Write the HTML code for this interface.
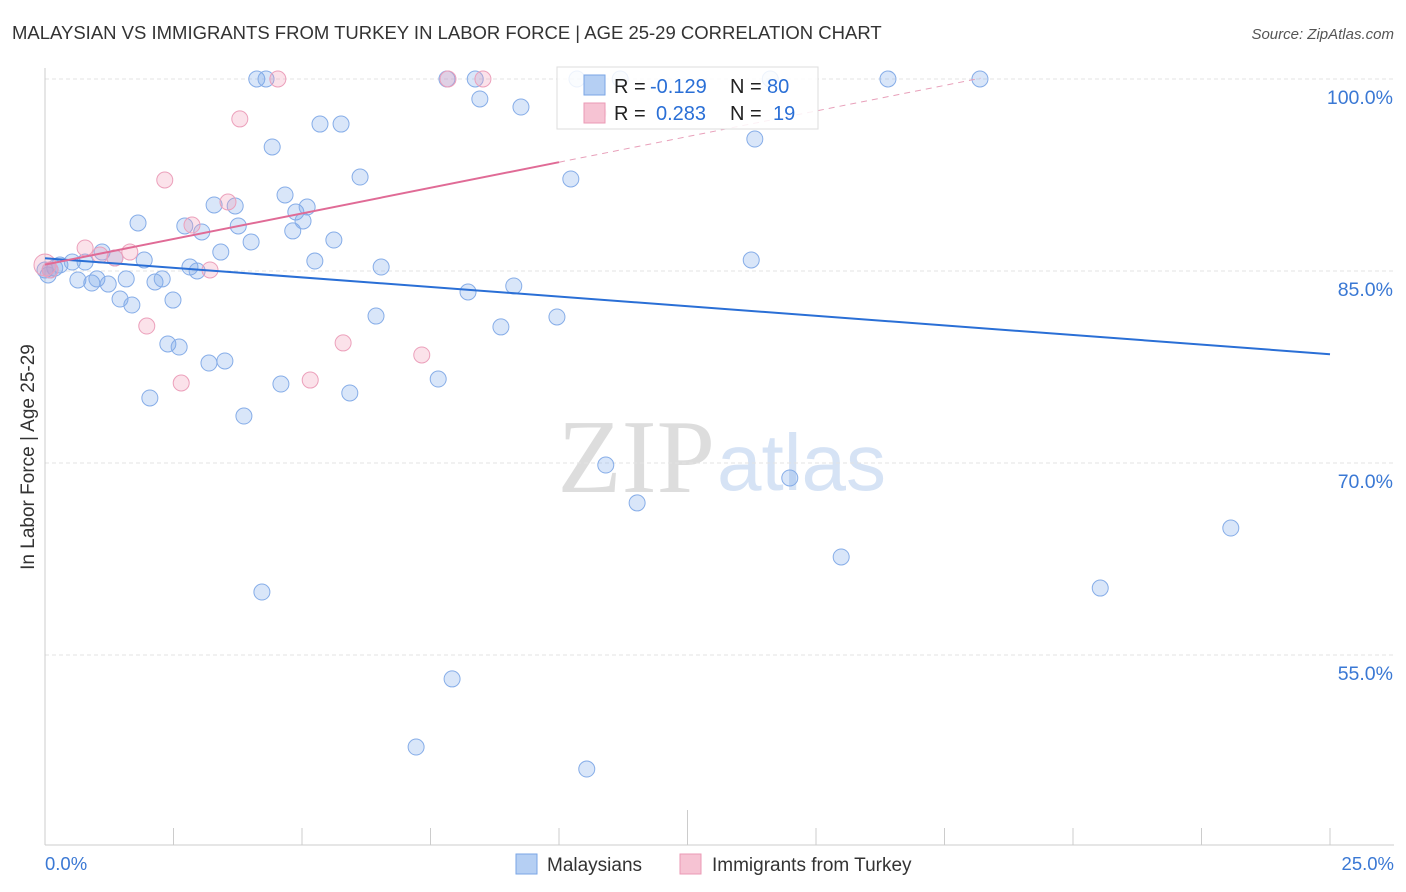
<!DOCTYPE html>
<html><head><meta charset="utf-8"><style>
body{margin:0;background:#fff;font-family:"Liberation Sans",sans-serif;}
svg{display:block}
</style></head><body>
<svg id="c" width="1406" height="892">
<text x="12" y="39" font-size="18.5" fill="#333">MALAYSIAN VS IMMIGRANTS FROM TURKEY IN LABOR FORCE | AGE 25-29 CORRELATION CHART</text>
<text x="1394" y="39" font-size="15" fill="#555" font-style="italic" text-anchor="end">Source: ZipAtlas.com</text>
<text x="715" y="492" font-size="105" fill="#ddd" font-family="Liberation Serif,serif" text-anchor="end">ZIP</text>
<text x="717" y="490" font-size="80" fill="#d6e3f5">atlas</text>
<text transform="translate(34,457) rotate(-90)" font-size="19" fill="#333" text-anchor="middle">In Labor Force | Age 25-29</text>
<g id="grid"></g><g id="pts"></g><g id="lines"></g>
<g>
<rect x="557" y="67" width="261" height="62" fill="#fff" fill-opacity="0.85" stroke="#ddd"/>
<rect x="584" y="75" width="21" height="20" fill="#b5cff3" stroke="#7aa6e6"/>
<rect x="584" y="103" width="21" height="20" fill="#f6c3d3" stroke="#eb9ab5"/>
<text x="614" y="93" font-size="20" fill="#222">R =</text><text x="650" y="93" font-size="20" fill="#2a6fd6">-0.129</text>
<text x="730" y="93" font-size="20" fill="#222">N =</text><text x="767" y="93" font-size="20" fill="#2a6fd6">80</text>
<text x="614" y="120" font-size="20" fill="#222">R =</text><text x="656" y="120" font-size="20" fill="#2a6fd6">0.283</text>
<text x="730" y="120" font-size="20" fill="#222">N =</text><text x="773" y="120" font-size="20" fill="#2a6fd6">19</text>
</g>
<g>
<rect x="516" y="854" width="21" height="20" fill="#b5cff3" stroke="#7aa6e6"/>
<text x="547" y="871" font-size="19" fill="#333">Malaysians</text>
<rect x="680" y="854" width="21" height="20" fill="#f6c3d3" stroke="#eb9ab5"/>
<text x="712" y="871" font-size="19" fill="#333">Immigrants from Turkey</text>
</g>
</svg>
<script>
const yTicks=[100,85,70,55];
const xTickLabels=["0.0%","25.0%"];
const blueX=[0.10,0.19,0.29,0.53,0.64,0.78,0.91,1.01,1.11,1.23,1.36,1.46,1.58,1.69,1.81,1.93,2.04,2.14,2.28,2.39,2.49,2.61,2.72,2.82,2.96,3.05,3.19,3.29,3.42,3.50,3.70,3.76,3.87,4.01,4.12,4.22,4.30,4.42,4.59,4.67,4.82,4.88,5.02,5.10,5.25,5.35,5.62,5.76,5.93,6.13,6.44,6.54,7.22,7.65,7.82,7.92,8.23,8.37,8.46,8.87,9.12,9.26,9.96,10.23,10.35,10.54,10.91,11.19,11.52,13.74,13.81,14.11,14.49,15.49,16.40,18.19,20.53,23.07,0.0,0.06];
const blueY=[85.08,85.23,85.47,85.70,84.30,85.70,84.06,84.38,86.48,83.98,86.02,82.81,84.38,82.34,88.75,85.86,75.08,84.14,84.38,79.30,82.73,79.06,88.52,85.31,85.00,88.05,77.81,90.16,86.48,77.97,90.08,88.52,73.67,87.27,100,59.92,100,94.69,76.17,90.94,88.13,89.61,88.91,90.00,85.78,96.48,87.42,96.48,75.47,92.34,81.48,85.31,47.81,76.56,100,53.13,83.36,100,98.44,80.63,83.83,97.81,81.41,92.19,100,46.09,69.84,100,66.88,85.86,95.31,100,68.83,62.66,100,100,60.23,64.92,85.08,84.69];
const pinkX=[0,0.10,0.78,1.07,1.36,1.65,1.98,2.33,2.65,2.86,3.21,3.56,3.79,4.53,5.16,5.80,7.33,7.84,8.52,10.76];
const pinkY=[85.47,85.08,86.80,86.25,86.02,86.48,80.70,92.11,76.25,88.59,85.08,90.39,96.88,100,76.48,79.38,78.44,100,100,97.34];
const blueTrend=[86.0,78.5];
const pinkTrend=[85.5,0.80];
const X=v=>45+v/25*1285, Y=v=>79+(100-v)*12.8;
const NS="http://www.w3.org/2000/svg";
function mk(t,a,p){const e=document.createElementNS(NS,t);for(const k in a)e.setAttribute(k,a[k]);p.appendChild(e);return e;}
const g=document.getElementById('grid');
yTicks.forEach((v,i)=>{
 const l=mk('line',{x1:45,x2:1394,y1:Y(v),y2:Y(v),stroke:'#e3e3e3','stroke-dasharray':'4,3'},g);
 
 
 const t=mk('text',{x:1393,y:Y(v)+25,'font-size':19.5,fill:'#3a78d4','text-anchor':'end'},g);
 t.textContent=v.toFixed(1)+'%';
 
 
});
mk('line',{x1:45,x2:45,y1:68,y2:845,stroke:'#ccc'},g);
mk('line',{x1:45,x2:1394,y1:845,y2:845,stroke:'#ccc'},g);
for(let i=0;i<=10;i++){const tk=mk('line',{x1:X(i*2.5),x2:X(i*2.5),y1:i==5?810:828,y2:845,stroke:'#ccc'},g);
 
 }
const t0=mk('text',{x:45,y:870,'font-size':18.5,fill:'#3a78d4'},g);t0.textContent=xTickLabels[0];


const t1=mk('text',{x:1394,y:870,'font-size':18.5,fill:'#3a78d4','text-anchor':'end'},g);t1.textContent=xTickLabels[1];


const p=document.getElementById('pts');
blueX.forEach((x,i)=>{const c=mk('circle',{cx:X(x),cy:Y(blueY[i]),r:8,fill:'rgba(120,165,235,0.28)',stroke:'#86ade8','stroke-width':1},p);
 
 });
pinkX.forEach((x,i)=>{const c=mk('circle',{cx:X(x),cy:Y(pinkY[i]),r:i==0?11:8,fill:'rgba(240,150,180,0.28)',stroke:'#eca0bb','stroke-width':1},p);
 
 });
const L=document.getElementById('lines');
const bl=mk('line',{x1:X(0),y1:Y(blueTrend[0]),x2:X(25),y2:Y(blueTrend[1]),stroke:'#2a6fd6','stroke-width':2},L);


const pl=mk('line',{x1:X(0),y1:Y(pinkTrend[0]),x2:X(10),y2:Y(pinkTrend[0]+pinkTrend[1]*10),stroke:'#e06b96','stroke-width':2},L);


const pd=mk('line',{x1:X(10),y1:Y(pinkTrend[0]+pinkTrend[1]*10),x2:X(18.2),y2:Y(pinkTrend[0]+pinkTrend[1]*18.2),stroke:'#e8a0ba','stroke-width':1,'stroke-dasharray':'6,5'},L);


</script>
</body></html>
